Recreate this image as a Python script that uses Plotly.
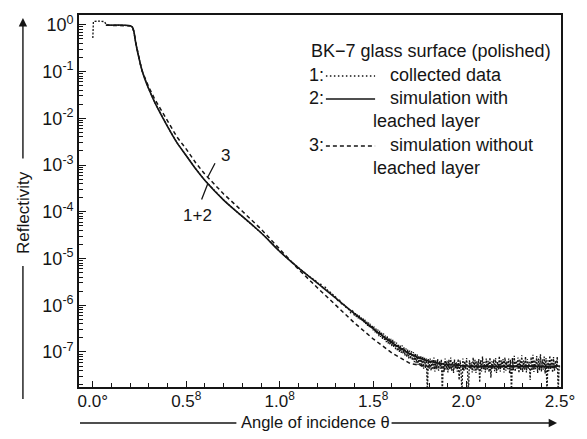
import plotly.graph_objects as go

# ---------------- data (log10 of reflectivity) ----------------
theta_sim = [0.07, 0.20, 0.212, 0.22, 0.228, 0.236, 0.245, 0.255, 0.265, 0.28, 0.30, 0.33,
             0.37, 0.41, 0.45, 0.50, 0.55, 0.60, 0.70, 0.80, 0.90, 1.00, 1.10, 1.20, 1.30,
             1.40, 1.50, 1.60, 1.70, 1.80, 1.90, 2.00, 2.50]
logR_with_layer = [-0.01, -0.02, -0.05, -0.15, -0.35, -0.52, -0.68, -0.85, -1.00, -1.18, -1.38,
                   -1.65, -1.96, -2.25, -2.52, -2.80, -3.08, -3.33, -3.75, -4.10, -4.45, -4.85,
                   -5.20, -5.52, -5.85, -6.18, -6.50, -6.80, -7.05, -7.20, -7.27, -7.30, -7.30]
logR_without_layer = [-0.01, -0.02, -0.05, -0.15, -0.35, -0.52, -0.68, -0.85, -1.00, -1.16, -1.34,
                      -1.58, -1.86, -2.13, -2.40, -2.66, -2.95, -3.20, -3.62, -3.99, -4.37, -4.80,
                      -5.23, -5.62, -6.00, -6.38, -6.72, -7.02, -7.25, -7.32, -7.32, -7.32, -7.32]

theta_data = [
    0.0, 0.0, 0.003, 0.03, 0.06, 0.075, 0.10, 0.15, 0.20, 0.212, 0.22, 0.228, 0.236,
    0.245, 0.255, 0.265, 0.28, 0.30, 0.33, 0.37, 0.41, 0.45, 0.50, 0.55, 0.60, 0.65,
    0.70, 0.75, 0.80, 0.85, 0.90, 0.95, 1.00, 1.05, 1.10, 1.15,
    1.20, 1.21, 1.22, 1.23, 1.24, 1.25, 1.26, 1.27, 1.28, 1.29,
    1.30, 1.31, 1.32, 1.33, 1.34, 1.35, 1.36, 1.37, 1.38, 1.39,
    1.400, 1.405, 1.410, 1.415, 1.420, 1.425, 1.430, 1.435, 1.440, 1.445,
    1.450, 1.455, 1.460, 1.465, 1.470, 1.475, 1.480, 1.485, 1.490, 1.495,
    1.500, 1.505, 1.510, 1.515, 1.520, 1.525, 1.530, 1.535, 1.540, 1.545,
    1.550, 1.555, 1.560, 1.565, 1.570, 1.575, 1.580, 1.585, 1.590, 1.595,
    1.600, 1.605, 1.610, 1.615, 1.620, 1.625, 1.630, 1.635, 1.640, 1.645,
    1.650, 1.655, 1.660, 1.665, 1.670, 1.675, 1.680, 1.685, 1.690, 1.695,
    1.700, 1.705, 1.710, 1.715, 1.720, 1.725, 1.730, 1.735, 1.740, 1.745,
    1.750, 1.755, 1.760, 1.765, 1.770, 1.775, 1.780, 1.785, 1.790, 1.795,
    1.800, 1.805, 1.810, 1.815, 1.820, 1.825, 1.830, 1.835, 1.840, 1.845,
    1.850, 1.855, 1.860, 1.865, 1.870, 1.875, 1.880, 1.885, 1.890, 1.895,
    1.900, 1.905, 1.910, 1.915, 1.920, 1.925, 1.930, 1.935, 1.940, 1.945,
    1.950, 1.955, 1.960, 1.965, 1.970, 1.975, 1.980, 1.985, 1.990, 1.995,
    2.000, 2.005, 2.010, 2.015, 2.020, 2.025, 2.030, 2.035, 2.040, 2.045,
    2.050, 2.055, 2.060, 2.065, 2.070, 2.075, 2.080, 2.085, 2.090, 2.095,
    2.100, 2.105, 2.110, 2.115, 2.120, 2.125, 2.130, 2.135, 2.140, 2.145,
    2.150, 2.155, 2.160, 2.165, 2.170, 2.175, 2.180, 2.185, 2.190, 2.195,
    2.200, 2.205, 2.210, 2.215, 2.220, 2.225, 2.230, 2.235, 2.240, 2.245,
    2.250, 2.255, 2.260, 2.265, 2.270, 2.275, 2.280, 2.285, 2.290, 2.295,
    2.300, 2.305, 2.310, 2.315, 2.320, 2.325, 2.330, 2.335, 2.340, 2.345,
    2.350, 2.355, 2.360, 2.365, 2.370, 2.375, 2.380, 2.385, 2.390, 2.395,
    2.400, 2.405, 2.410, 2.415, 2.420, 2.425, 2.430, 2.435, 2.440, 2.445,
    2.450, 2.455, 2.460, 2.465, 2.470, 2.475, 2.480, 2.485, 2.490, 2.495,
]
logR_data = [
    -0.28, -0.10, 0.07, 0.08, 0.07, 0.00, -0.01, -0.01, -0.02, -0.05, -0.15, -0.35, -0.52,
    -0.68, -0.85, -1.00, -1.18, -1.38, -1.65, -1.96, -2.25, -2.52, -2.80, -3.08, -3.33, -3.55,
    -3.75, -3.93, -4.10, -4.27, -4.45, -4.64, -4.85, -5.03, -5.20, -5.36,
    -5.50, -5.56, -5.55, -5.62, -5.60, -5.66, -5.70, -5.72, -5.76, -5.80,
    -5.83, -5.90, -5.89, -5.97, -5.96, -6.04, -6.05, -6.09, -6.16, -6.12,
    -6.22, -6.17, -6.25, -6.20, -6.28, -6.22, -6.30, -6.25, -6.33, -6.27,
    -6.36, -6.30, -6.40, -6.35, -6.44, -6.37, -6.47, -6.40, -6.50, -6.43,
    -6.54, -6.46, -6.58, -6.50, -6.62, -6.52, -6.66, -6.55, -6.68, -6.58,
    -6.72, -6.60, -6.74, -6.65, -6.79, -6.66, -6.82, -6.70, -6.85, -6.72,
    -6.88, -6.74, -6.90, -6.78, -6.94, -6.80, -6.98, -6.83, -7.00, -6.86,
    -7.02, -6.86, -7.04, -6.90, -7.08, -6.92, -7.10, -6.95, -7.14, -6.97,
    -7.15, -6.98, -7.18, -7.00, -7.22, -7.03, -7.24, -7.05, -7.28, -7.08,
    -7.30, -7.08, -7.32, -7.10, -7.36, -7.12, -7.34, -7.14, -7.90, -7.15,
    -7.36, -7.14, -7.40, -7.16, -7.38, -7.12, -7.42, -7.18, -7.37, -7.15,
    -7.40, -7.20, -7.36, -7.16, -7.90, -7.22, -7.42, -7.14, -7.38, -7.19,
    -7.44, -7.17, -7.38, -7.12, -7.40, -7.20, -7.45, -7.16, -7.36, -7.22,
    -7.42, -7.15, -7.60, -7.18, -7.39, -7.90, -7.14, -7.41, -7.20, -7.37,
    -7.13, -7.43, -7.90, -7.18, -7.36, -7.22, -7.44, -7.12, -7.40, -7.17,
    -7.45, -7.20, -7.38, -7.15, -7.65, -7.18, -7.42, -7.10, -7.37, -7.21,
    -7.44, -7.14, -7.39, -7.19, -7.43, -7.12, -7.55, -7.20, -7.36, -7.16,
    -7.41, -7.13, -7.45, -7.21, -7.38, -7.09, -7.42, -7.18, -7.35, -7.15,
    -7.44, -7.12, -7.40, -7.20, -7.37, -7.14, -7.46, -7.17, -7.90, -7.13,
    -7.39, -7.08, -7.42, -7.19, -7.36, -7.12, -7.45, -7.16, -7.40, -7.07,
    -7.43, -7.18, -7.38, -7.10, -7.44, -7.15, -7.36, -7.21, -7.60, -7.11,
    -7.40, -7.06, -7.43, -7.17, -7.37, -7.09, -7.45, -7.14, -7.39, -7.05,
    -7.42, -7.16, -7.38, -7.10, -7.46, -7.13, -7.90, -7.18, -7.41, -7.08,
    -7.37, -7.14, -7.44, -7.11, -7.40, -7.19, -7.36, -7.10, -7.90, -7.30,
]

x_tickvals = [0.0, 0.5, 1.0, 1.5, 2.0, 2.5]
x_ticktext = ["0.0°", "0.5<sup>8</sup>", "1.0<sup>8</sup>", "1.5<sup>8</sup>", "2.0°", "2.5°"]
y_exponents = [0, -1, -2, -3, -4, -5, -6, -7]

legend_title = "BK−7 glass surface (polished)"
legend_rows = [("1:", "collected data", None), ("2:", "simulation with", "leached layer"),
               ("3:", "simulation without", "leached layer")]

# ---------------- figure ----------------
INK = "#151515"
FONT = "Arial, Liberation Sans, sans-serif"
W, H = 587, 439
L, R, T, B = 79, 18, 15, 52
pw, ph = W - L - R, H - T - B
LEG_FS = 18


def px(x):
    return (x - L) / pw


def py(y):
    return (H - B - y) / ph


fig = go.Figure()
fig.add_trace(go.Scatter(x=theta_sim, y=[10 ** v for v in logR_without_layer], mode="lines",
                         line=dict(color=INK, width=1.5, dash="4px,3px"), showlegend=False))
fig.add_trace(go.Scatter(x=theta_sim, y=[10 ** v for v in logR_with_layer], mode="lines",
                         line=dict(color=INK, width=1.6), showlegend=False, line_shape="spline"))
fig.add_trace(go.Scatter(x=theta_data, y=[10 ** v for v in logR_data], mode="lines",
                         line=dict(color=INK, width=1.3, dash="2px,1.5px"), showlegend=False))

ann = []
shapes = []

# legend text
ann.append(dict(text=legend_title, x=px(313), y=py(51), xref="paper", yref="paper",
                xanchor="left", yanchor="middle", showarrow=False, font=dict(size=LEG_FS)))
row_y = [75, 98, 145]
sample_dash = ["1.5px,2.5px", "solid", "4px,3px"]
for (num, line1, line2), yy, dsh in zip(legend_rows, row_y, sample_dash):
    ann.append(dict(text=num, x=px(311), y=py(yy), xref="paper", yref="paper",
                    xanchor="left", yanchor="middle", showarrow=False, font=dict(size=LEG_FS)))
    ann.append(dict(text=line1, x=px(393), y=py(yy), xref="paper", yref="paper",
                    xanchor="left", yanchor="middle", showarrow=False, font=dict(size=LEG_FS)))
    if line2:
        ann.append(dict(text=line2, x=px(376), y=py(yy + 23), xref="paper", yref="paper",
                        xanchor="left", yanchor="middle", showarrow=False, font=dict(size=LEG_FS)))
    shapes.append(dict(type="line", xref="paper", yref="paper", x0=px(330), x1=px(380),
                       y0=py(yy + 1), y1=py(yy + 1), line=dict(color=INK, width=1.4, dash=dsh)))

# curve labels with leader lines (data coords, log10 for y)
ann.append(dict(text="3", x=0.711, y=-2.80, xref="x", yref="y", showarrow=False,
                xanchor="center", yanchor="middle", font=dict(size=17)))
ann.append(dict(text="", x=0.616, y=-3.25, ax=0.658, ay=-2.93, xref="x", yref="y",
                axref="x", ayref="y", showarrow=True, arrowhead=0, arrowwidth=1.3, arrowcolor=INK))
ann.append(dict(text="1+2", x=0.558, y=-4.07, xref="x", yref="y", showarrow=False,
                xanchor="center", yanchor="middle", font=dict(size=17)))
ann.append(dict(text="", x=0.616, y=-3.39, ax=0.579, ay=-3.77, xref="x", yref="y",
                axref="x", ayref="y", showarrow=True, arrowhead=0, arrowwidth=1.3, arrowcolor=INK))

# axis titles with arrows
ann.append(dict(text="Reflectivity", x=px(22), y=py(212), xref="paper", yref="paper",
                xanchor="center", yanchor="middle", textangle=-90, showarrow=False,
                font=dict(size=17)))
shapes.append(dict(type="line", xref="paper", yref="paper", x0=px(22), x1=px(22),
                   y0=py(399), y1=py(266), line=dict(color=INK, width=1.4)))
ann.append(dict(text="", x=px(22), y=py(18), xref="paper", yref="paper", ax=0, ay=142,
                showarrow=True, arrowhead=2, arrowsize=1.2, arrowwidth=1.4, arrowcolor=INK))
ann.append(dict(text="Angle of incidence θ", x=px(319), y=py(422), xref="paper", yref="paper",
                xanchor="center", yanchor="middle", showarrow=False, font=dict(size=16.5)))
shapes.append(dict(type="line", xref="paper", yref="paper", x0=px(80), x1=px(239),
                   y0=py(423), y1=py(423), line=dict(color=INK, width=1.4)))
ann.append(dict(text="", x=px(565), y=py(423), xref="paper", yref="paper", ax=-167, ay=0,
                showarrow=True, arrowhead=2, arrowsize=1.2, arrowwidth=1.4, arrowcolor=INK))

fig.update_layout(
    width=W, height=H, margin=dict(l=L, r=R, t=T, b=B),
    paper_bgcolor="white", plot_bgcolor="white",
    font=dict(family=FONT, size=17, color=INK),
    annotations=ann, shapes=shapes,
    xaxis=dict(range=[-0.074, 2.505], tickmode="array", tickvals=x_tickvals, ticktext=x_ticktext,
               ticks="inside", ticklen=6, tickwidth=1.3, tickcolor=INK,
               showline=True, linecolor=INK, linewidth=1.6, mirror=True, showgrid=False,
               zeroline=False, tickfont=dict(size=17), ticklabelstandoff=-2,
               minor=dict(ticks="inside", ticklen=4, tickwidth=1.2, tickcolor=INK, dtick=0.1, tick0=0,
                          showgrid=False)),
    yaxis=dict(type="log", range=[-7.75, 0.21], tickmode="array",
               tickvals=[10 ** e for e in y_exponents],
               ticktext=["10<sup>%d</sup>" % e for e in y_exponents],
               ticks="inside", ticklen=7, tickwidth=1.3, tickcolor=INK,
               showline=True, linecolor=INK, linewidth=1.6, mirror=True, showgrid=False,
               zeroline=False, tickfont=dict(size=18),
               minor=dict(ticks="inside", ticklen=4, tickwidth=1.0, tickcolor=INK, dtick="D1",
                          showgrid=False)),
)

fig.write_html("out.html")
